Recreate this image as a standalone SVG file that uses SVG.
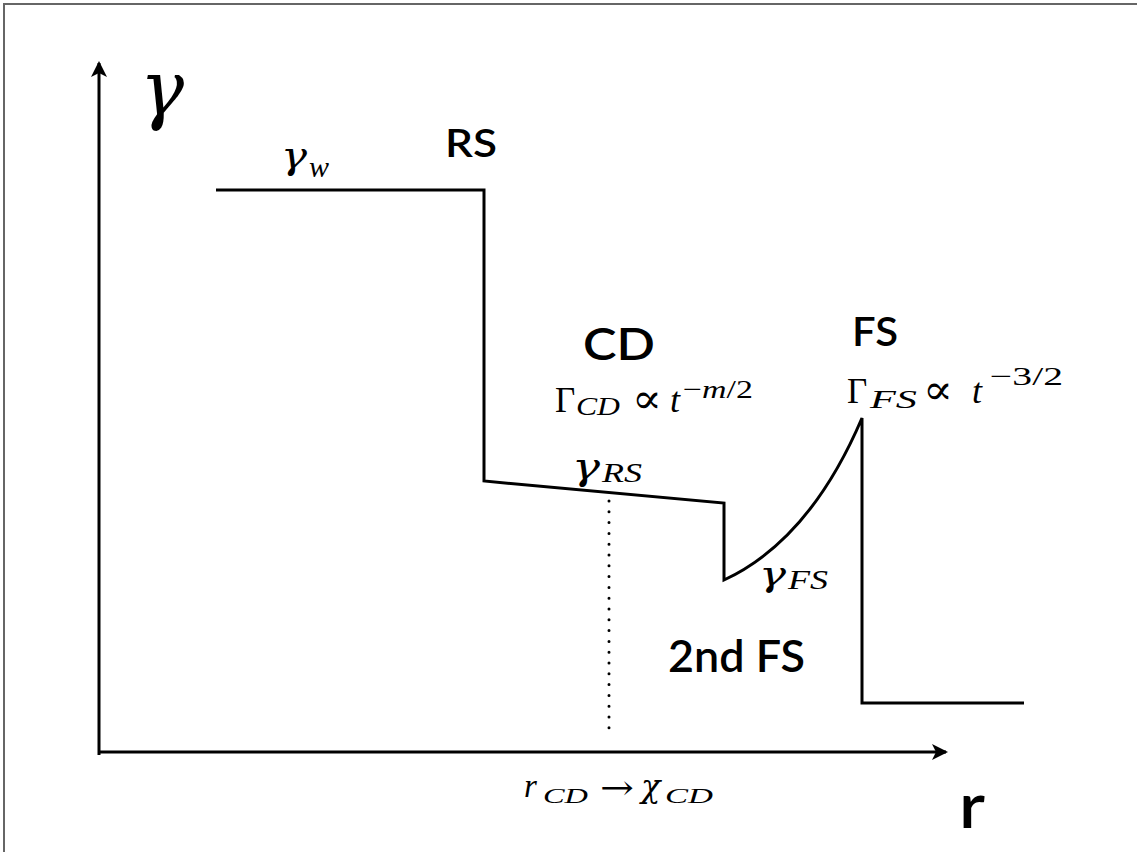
<svg xmlns="http://www.w3.org/2000/svg" width="1137" height="852" viewBox="0 0 1137 852">
<style>
.ln{fill:none;stroke:#000;stroke-width:3;stroke-linejoin:miter;stroke-linecap:butt}
.lbl{font-family:Lato,"Open Sans","Liberation Sans",sans-serif;font-weight:600;fill:#000}
.m{font-family:"Liberation Serif","DejaVu Serif",serif;fill:#000}
.g{font-family:"DejaVu Serif","Liberation Serif",serif;font-style:italic;fill:#000}
.s{font-family:"DejaVu Serif","Liberation Serif",serif;fill:#000}
.i{font-style:italic}
</style>
<defs>
<marker id="ah" viewBox="0 0 16 16" refX="14" refY="8" markerWidth="16" markerHeight="16" markerUnits="userSpaceOnUse" orient="auto">
<path d="M0,0 L16,8 L0,16 L4,8 Z" fill="#000"/>
</marker>
</defs>
<rect x="0" y="0" width="1137" height="852" fill="#fff"/>
<rect x="4" y="4" width="1150" height="870" fill="none" stroke="#666" stroke-width="2"/>
<g id="connectors">
<line class="ln" x1="99" y1="755" x2="99" y2="63" marker-end="url(#ah)"/>
<line class="ln" x1="98" y1="752" x2="946" y2="752" marker-end="url(#ah)"/>
<path class="ln" d="M216,190 H484 V481 L724,503 V580 Q810,540 862,418 V703 H1024"/>
<line x1="609" y1="501" x2="609" y2="732" stroke="#000" stroke-width="3" stroke-linecap="round" stroke-dasharray="0 10.8"/>
</g>
<g id="gamma-axis"><text class="g" x="140" y="115" font-size="76" textLength="44" lengthAdjust="spacingAndGlyphs">γ</text></g>
<g id="gamma-w"><text class="g" x="281" y="168" font-size="38" textLength="26" lengthAdjust="spacingAndGlyphs">γ</text><text class="m i" x="309" y="177" font-size="30">w</text></g>
<g id="RS"><text class="lbl" x="445" y="157" font-size="39" textLength="52" lengthAdjust="spacingAndGlyphs">RS</text></g>
<g id="CD"><text class="lbl" x="583" y="360" font-size="44" textLength="72" lengthAdjust="spacingAndGlyphs">CD</text></g>
<g id="Gamma-CD">
<text class="m" x="555" y="412" font-size="35">Γ</text>
<text class="m i" x="576" y="415" font-size="26" textLength="44" lengthAdjust="spacingAndGlyphs">CD</text>
<text class="s" x="632" y="413" font-size="42" textLength="30" lengthAdjust="spacingAndGlyphs">∝</text>
<text class="m i" x="670" y="412" font-size="36">t</text>
<text class="m" x="683" y="398" font-size="26" textLength="70" lengthAdjust="spacingAndGlyphs">−<tspan class="i">m</tspan>/2</text>
</g>
<g id="gamma-RS"><text class="g" x="572" y="479" font-size="37" textLength="28" lengthAdjust="spacingAndGlyphs">γ</text><text class="m i" x="602" y="482" font-size="28" textLength="40" lengthAdjust="spacingAndGlyphs">RS</text></g>
<g id="FS"><text class="lbl" x="852" y="346" font-size="40" textLength="46" lengthAdjust="spacingAndGlyphs">FS</text></g>
<g id="Gamma-FS">
<text class="m" x="847" y="403" font-size="35">Γ</text>
<text class="m i" x="870" y="408" font-size="25" textLength="47" lengthAdjust="spacingAndGlyphs">FS</text>
<text class="s" x="923" y="404" font-size="42" textLength="30" lengthAdjust="spacingAndGlyphs">∝</text>
<text class="m i" x="972" y="403" font-size="36">t</text>
<text class="m" x="990" y="385" font-size="26" textLength="73" lengthAdjust="spacingAndGlyphs">−3/2</text>
</g>
<g id="gamma-FS"><text class="g" x="759" y="586" font-size="36" textLength="27" lengthAdjust="spacingAndGlyphs">γ</text><text class="m i" x="788" y="589" font-size="28" textLength="40" lengthAdjust="spacingAndGlyphs">FS</text></g>
<g id="second-FS"><text class="lbl" x="668" y="672" font-size="44" textLength="137" lengthAdjust="spacingAndGlyphs">2nd FS</text></g>
<g id="r-CD">
<text class="m i" x="524" y="797" font-size="33">r</text>
<text class="m i" x="543" y="803" font-size="22" textLength="45" lengthAdjust="spacingAndGlyphs">CD</text>
<text class="s" x="600" y="799" font-size="34" textLength="34" lengthAdjust="spacingAndGlyphs">→</text>
<text class="g" x="641" y="797" font-size="32">χ</text>
<text class="m i" x="665" y="803" font-size="22" textLength="48" lengthAdjust="spacingAndGlyphs">CD</text>
</g>
<g id="r-axis"><text class="lbl" x="959" y="828" font-size="62" textLength="26" lengthAdjust="spacingAndGlyphs">r</text></g>
</svg>
